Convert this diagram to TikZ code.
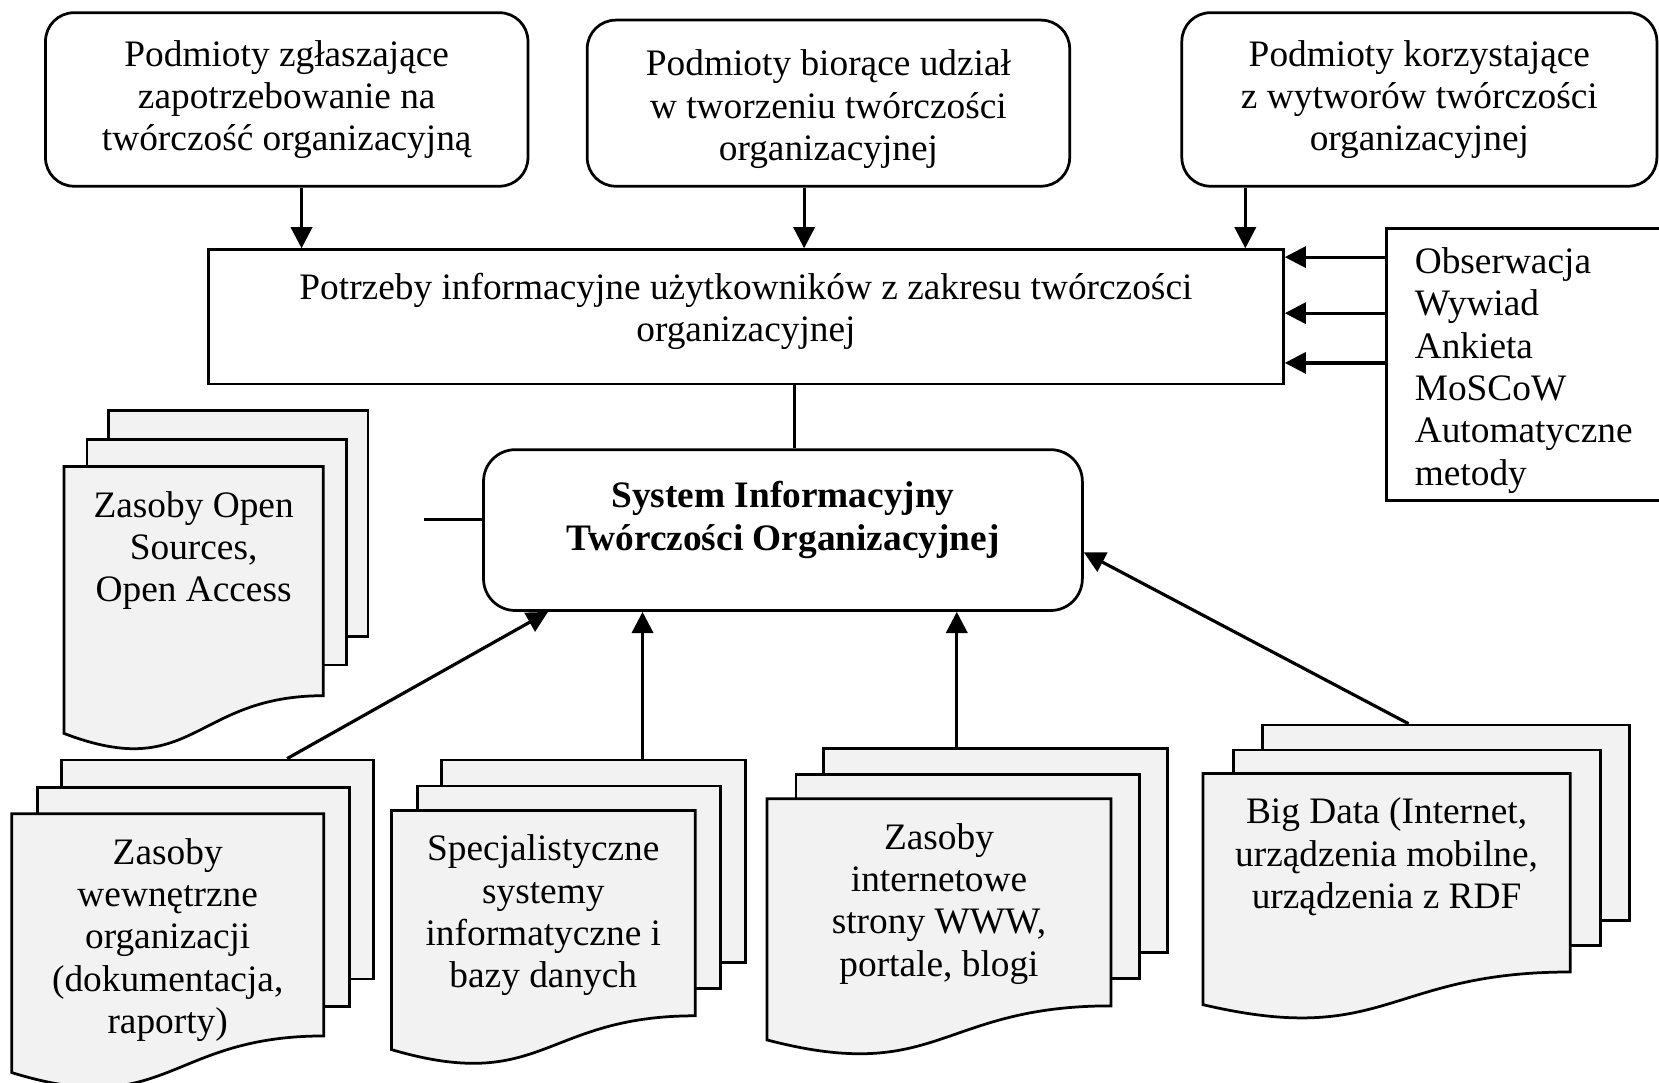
\documentclass[tikz,border=0pt]{standalone}
\usepackage{fontspec}
\setmainfont{Liberation Serif}
\usetikzlibrary{arrows.meta}
\definecolor{arkuszszary}{HTML}{F2F2F2}

% stos dokumentow: nazwa, lewo, gora, szerokosc, wysokosc, dx, dy, tekst
\newcommand{\stosdok}[8]{%
	\node[arkusz, anchor=north west, minimum width=#4, minimum height=0.79*#5] (#1-tyl) at (#2+2*#6,#3-2*#7) {};
	\node[arkusz, anchor=north west, minimum width=#4, minimum height=0.79*#5] (#1-srodek) at (#2+#6,#3-#7) {};
	\draw[arkusz] (#2,#3) -- (#2+#4,#3) -- (#2+#4,#3+0.802*#5)
		.. controls (#2+#4/2,#3+0.802*#5) and (#2+#4/2,#3+1.108*#5) .. (#2,#3+0.934*#5) -- cycle;
	\node[opis, anchor=north] (#1) at (#2+#4/2,#3+23) {#8};
}

\begin{document}
\begin{tikzpicture}[x=1pt,y=-1pt,
		podmiot/.style={draw, line width=2.6pt, rounded corners=27pt, align=center, inner sep=0},
		ramka/.style={draw, line width=2.6pt, inner sep=0},
		arkusz/.style={draw, fill=arkuszszary, line width=2.6pt, inner sep=0},
		opis/.style={align=center, inner sep=0},
		linia/.style={line width=2.6pt},
		strzalka/.style={line width=3pt, -{Triangle[length=20pt,width=20pt]}}]
				\fontsize{35.3}{40}\selectfont
				\useasboundingbox (0,0) rectangle (1568,1023);
				\fill[white] (0,0) rectangle (1568,1023);

				% podmioty
				\node[podmiot, minimum width=456, minimum height=164] (zglasz) at (271,94) {Podmioty zgłaszające\\zapotrzebowanie na\\twórczość organizacyjną};
				\node[podmiot, minimum width=456, minimum height=157] (udzial) at (783,97.5) {\rule{0pt}{36pt}Podmioty biorące udział\\w tworzeniu twórczości\\organizacyjnej};
				\node[podmiot, minimum width=449, minimum height=164] (korzyst) at (1341.5,94) {Podmioty korzystające\\z wytworów twórczości\\organizacyjnej};

				% potrzeby i metody
				\node[ramka, minimum width=1016, minimum height=127] (potrzeby) at (705,299.5) {};
				\node[opis, anchor=north] (potrzeby-t) at (705,258) {Potrzeby informacyjne użytkowników z zakresu twórczości\\organizacyjnej};
				\node[ramka, anchor=north west, minimum width=291, minimum height=257] (metody) at (1309,215) {};
				\node[opis, anchor=west, align=left] (metody-t) at (1337,350) {Obserwacja\\Wywiad\\Ankieta\\MoSCoW\\Automatyczne\\metody};

				% system
				\node[podmiot, rounded corners=30pt, minimum width=566, minimum height=152] (sys) at (740,501) {};
				\node[opis, anchor=north, font=\bfseries] (sys-t) at (740,455) {System Informacyjny\\Twórczości Organizacyjnej};

				% zasoby
				\stosdok{otwarte}{60.5}{441}{245}{270}{20.5}{27}{Zasoby Open\\Sources,\\Open Access}
				\stosdok{wewn}{11}{769}{295}{262}{23}{26}{Zasoby\\wewnętrzne\\organizacji\\(dokumentacja,\\raporty)}
				\stosdok{spec}{370}{766}{287}{242}{23}{24.5}{Specjalistyczne\\systemy\\informatyczne i\\bazy danych}
				\stosdok{www}{725}{755}{325}{244}{26}{24.5}{Zasoby\\internetowe\\strony WWW,\\portale, blogi}
				\stosdok{bigdata}{1137}{731}{347}{234}{27.5}{23.5}{Big Data (Internet,\\urządzenia mobilne,\\urządzenia z RDF}

				% polaczenia
				\draw[strzalka] ([xshift=14pt]zglasz.south) -- ([xshift=14pt]zglasz.south |- potrzeby.north);
				\draw[strzalka] ([xshift=-23pt]udzial.south) -- ([xshift=-23pt]udzial.south |- potrzeby.north);
				\draw[strzalka] ([xshift=-164.5pt]korzyst.south) -- ([xshift=-164.5pt]korzyst.south |- potrzeby.north);
				\foreach \y in {243,296,343}
					\draw[strzalka] (metody.west |- 0,\y) -- (potrzeby.east |- 0,\y);
				\draw[linia] ([xshift=46pt]potrzeby.south) -- ([xshift=46pt]potrzeby.south |- sys.north);
				\coordinate (wolny) at (401,491);
				\draw[linia] (wolny) -- (wolny -| sys.west);
				\draw[strzalka] ([xshift=65.5pt]wewn-tyl.north) -- ([xshift=-222pt]sys.south);
				\draw[strzalka] ([xshift=46.5pt]spec-tyl.north) -- ([xshift=46.5pt]spec-tyl.north |- sys.south);
				\draw[strzalka] ([xshift=-36.5pt]www-tyl.north) -- ([xshift=-36.5pt]www-tyl.north |- sys.south);
				\draw[strzalka] ([xshift=-35.5pt]bigdata-tyl.north) -- ([yshift=-21pt]sys.east);
			\end{tikzpicture}
\end{document}
